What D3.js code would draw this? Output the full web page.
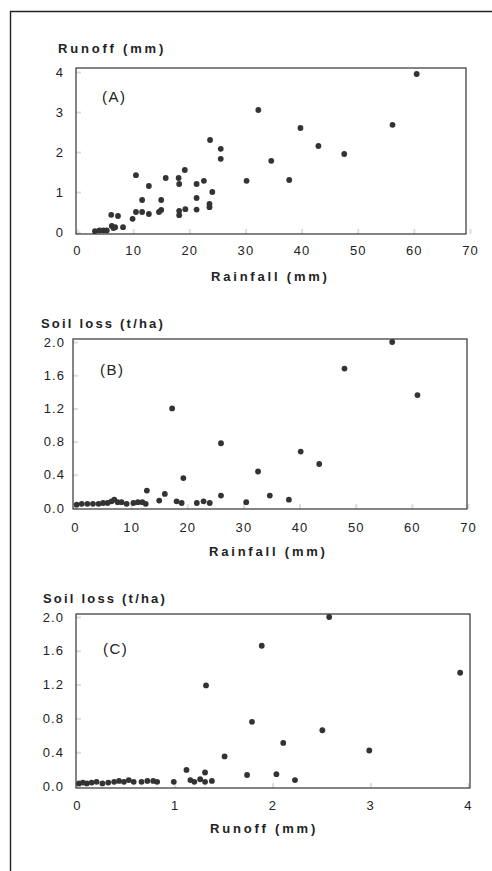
<!DOCTYPE html>
<html>
<head>
<meta charset="utf-8">
<script src="https://cdn.jsdelivr.net/npm/d3@7"></script>
<style>
  body { margin: 0; background: #fff; }
  svg { display: block; font-family: "Liberation Sans", Arial, sans-serif; }
</style>
</head>
<body>
<div id="chart"></div>
<script>
// (A) runoff vs rainfall
const rainfallA = [3.2, 4.0, 4.7, 5.3, 6.2, 6.5, 6.8, 8.2, 6.1, 7.3, 9.9, 10.5, 11.6, 12.8, 14.6, 15.0,
  18.2, 18.2, 19.3, 21.3, 23.6, 23.6, 11.6, 15.0, 21.3, 24.1, 12.8, 18.2, 21.3, 22.6, 15.8, 18.1,
  10.5, 19.2, 25.6, 25.6, 23.7, 30.2, 37.8, 34.6, 47.6, 43.0, 39.8, 56.2, 32.3, 60.5];
const runoffA = [0.02, 0.04, 0.04, 0.04, 0.15, 0.1, 0.12, 0.12, 0.43, 0.4, 0.33, 0.5, 0.5, 0.45, 0.5, 0.55,
  0.53, 0.42, 0.57, 0.56, 0.7, 0.62, 0.8, 0.8, 0.85, 1.0, 1.15, 1.2, 1.2, 1.28, 1.35, 1.35,
  1.42, 1.55, 1.83, 2.08, 2.3, 1.28, 1.3, 1.78, 1.95, 2.15, 2.6, 2.68, 3.05, 3.95];

// (B) soil loss vs rainfall
const rainfallB = [0.3, 1.2, 2.2, 3.2, 4.2, 5.0, 5.8, 6.5, 7.0, 7.6, 8.3, 9.2, 10.4, 11.2, 12.0, 12.6,
  15.0, 18.1, 19.0, 21.7, 22.9, 24.0, 30.5, 38.1, 26.0, 34.7, 16.0, 12.8, 19.3, 32.6, 43.5, 40.2,
  26.0, 17.3, 61.0, 48.0, 56.5];
const soilLossB = [0.04, 0.05, 0.05, 0.05, 0.05, 0.06, 0.06, 0.08, 0.1, 0.07, 0.07, 0.05, 0.06, 0.07, 0.07, 0.05,
  0.09, 0.08, 0.06, 0.06, 0.08, 0.06, 0.07, 0.1, 0.15, 0.15, 0.17, 0.21, 0.36, 0.44, 0.53, 0.68,
  0.78, 1.2, 1.36, 1.68, 2.0];

// (C) soil loss vs runoff
const runoffC = [0.02, 0.06, 0.1, 0.15, 0.2, 0.26, 0.32, 0.38, 0.43, 0.48, 0.53, 0.58, 0.66, 0.72, 0.78, 0.82,
  0.99, 1.16, 1.2, 1.26, 1.31, 1.38, 2.23, 1.74, 2.04, 1.31, 1.12, 1.51, 2.99, 2.11, 2.51, 1.79,
  1.32, 3.92, 1.89, 2.58];
const soilLossC = [0.03, 0.04, 0.03, 0.04, 0.05, 0.03, 0.04, 0.05, 0.06, 0.05, 0.07, 0.05, 0.05, 0.06, 0.06, 0.05,
  0.05, 0.07, 0.05, 0.08, 0.05, 0.06, 0.07, 0.13, 0.14, 0.16, 0.19, 0.35, 0.42, 0.51, 0.66, 0.76,
  1.19, 1.34, 1.66, 2.0];

const rainfallTicks = [0, 10, 20, 30, 40, 50, 60, 70];
const runoffTicks = [0, 1, 2, 3, 4];
const soilLossTicks = [0, 0.4, 0.8, 1.2, 1.6, 2.0];

const W = 492, H = 871;

const svg = d3.select('#chart').append('svg')
  .attr('width', W)
  .attr('height', H);

// scanned page frame
svg.append('path')
  .attr('d', 'M10.5,871V11.5H492')
  .attr('fill', 'none')
  .attr('stroke', '#222')
  .attr('stroke-width', 1.4);

const panels = [
  {
    label: '(A)', xs: rainfallA, ys: runoffA,
    xDomain: [0, 70], yDomain: [0, 4], xTicks: rainfallTicks, yTicks: runoffTicks,
    xFmt: d3.format('d'), yFmt: d3.format('d'),
    xRange: [77, 470], yRange: [232, 72],
    box: { l: 76, t: 68, r: 466, b: 234 },
    xPad: 11.5, yPad: 12,
    xTitle: 'Rainfall (mm)', xTitlePos: [211, 281],
    yTitle: 'Runoff (mm)', yTitlePos: [58, 53],
    labelPos: [102, 101.5]
  },
  {
    label: '(B)', xs: rainfallB, ys: soilLossB,
    xDomain: [0, 70], yDomain: [0, 2], xTicks: rainfallTicks, yTicks: soilLossTicks,
    xFmt: d3.format('d'), yFmt: d3.format('.1f'),
    xRange: [75, 468], yRange: [508, 342],
    box: { l: 73, t: 339, r: 467, b: 509 },
    xPad: 13.5, yPad: 8,
    xTitle: 'Rainfall (mm)', xTitlePos: [209, 556],
    yTitle: 'Soil loss (t/ha)', yTitlePos: [41, 328],
    labelPos: [100, 375]
  },
  {
    label: '(C)', xs: runoffC, ys: soilLossC,
    xDomain: [0, 4], yDomain: [0, 2], xTicks: runoffTicks, yTicks: soilLossTicks,
    xFmt: d3.format('d'), yFmt: d3.format('.1f'),
    xRange: [77, 468], yRange: [786, 617],
    box: { l: 76, t: 614, r: 470, b: 788 },
    xPad: 12.5, yPad: 12,
    xTitle: 'Runoff (mm)', xTitlePos: [210, 833],
    yTitle: 'Soil loss (t/ha)', yTitlePos: [43, 603],
    labelPos: [103, 654]
  }
];

const drawPanel = (p) => {
  const x = d3.scaleLinear().domain(p.xDomain).range(p.xRange);
  const y = d3.scaleLinear().domain(p.yDomain).range(p.yRange);
  const g = svg.append('g');

  // faint inner tick marks
  g.append('g')
    .attr('transform', `translate(0,${p.box.b})`)
    .call(d3.axisBottom(x).tickValues(p.xTicks).tickSize(-5).tickFormat(''))
    .call((a) => a.select('.domain').remove())
    .selectAll('line').attr('stroke', '#ddd').attr('stroke-width', 2);
  g.append('g')
    .attr('transform', `translate(${p.box.l},0)`)
    .call(d3.axisLeft(y).tickValues(p.yTicks).tickSize(-5).tickFormat(''))
    .call((a) => a.select('.domain').remove())
    .selectAll('line').attr('stroke', '#ddd').attr('stroke-width', 2);

  // tick labels
  const xa = g.append('g')
    .attr('transform', `translate(0,${p.box.b})`)
    .call(d3.axisBottom(x).tickValues(p.xTicks).tickSize(0).tickPadding(p.xPad).tickFormat(p.xFmt));
  const ya = g.append('g')
    .attr('transform', `translate(${p.box.l},0)`)
    .call(d3.axisLeft(y).tickValues(p.yTicks).tickSize(0).tickPadding(p.yPad).tickFormat(p.yFmt));
  [xa, ya].forEach((a) => {
    a.select('.domain').remove();
    a.selectAll('text')
      .attr('fill', '#222')
      .style('font-size', '13px')
      .style('letter-spacing', '1.1px');
  });

  // plot frame
  g.append('rect')
    .attr('x', p.box.l)
    .attr('y', p.box.t)
    .attr('width', p.box.r - p.box.l)
    .attr('height', p.box.b - p.box.t)
    .attr('fill', 'none')
    .attr('stroke', '#333')
    .attr('stroke-width', 1.2);

  // points
  g.append('g')
    .selectAll('circle')
    .data(p.xs.map((v, i) => [v, p.ys[i]]))
    .join('circle')
    .attr('cx', (d) => x(d[0]))
    .attr('cy', (d) => y(d[1]))
    .attr('r', 2.9)
    .attr('fill', '#333');

  // titles
  g.append('text')
    .attr('x', p.xTitlePos[0])
    .attr('y', p.xTitlePos[1])
    .attr('fill', '#222')
    .style('font-size', '13px')
    .style('font-weight', 'bold')
    .style('letter-spacing', '2.8px')
    .text(p.xTitle);
  g.append('text')
    .attr('x', p.yTitlePos[0])
    .attr('y', p.yTitlePos[1])
    .attr('fill', '#222')
    .style('font-size', '13px')
    .style('font-weight', 'bold')
    .style('letter-spacing', p.yTitle.length > 12 ? '2.2px' : '2.8px')
    .text(p.yTitle);
  g.append('text')
    .attr('x', p.labelPos[0])
    .attr('y', p.labelPos[1])
    .attr('fill', '#222')
    .style('font-size', '15px')
    .style('letter-spacing', '1.5px')
    .text(p.label);
};

panels.forEach(drawPanel);
</script>
</body>
</html>
